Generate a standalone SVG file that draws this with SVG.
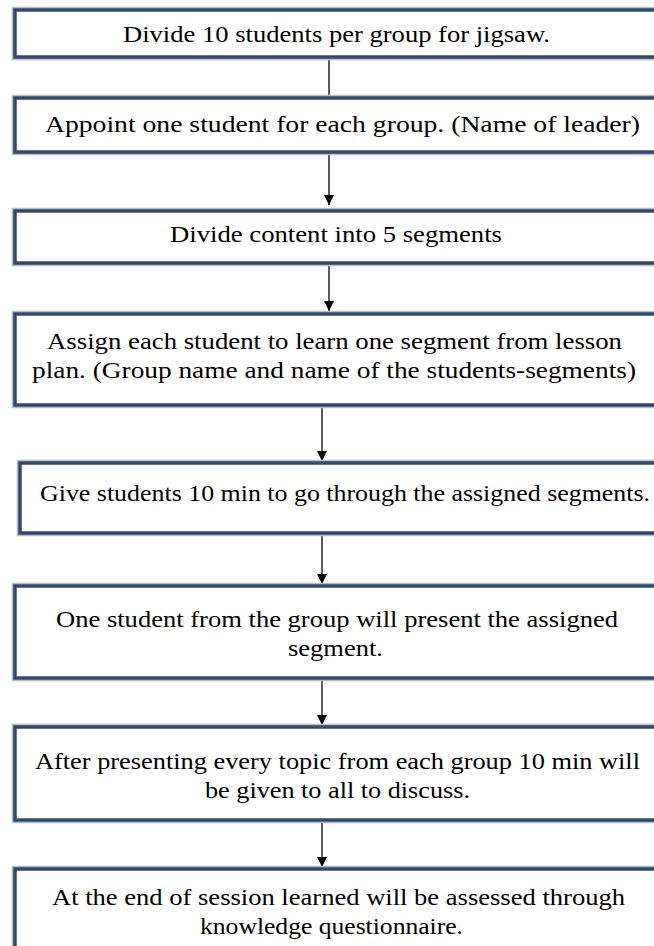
<svg xmlns="http://www.w3.org/2000/svg" width="654" height="946" viewBox="0 0 654 946">
<style>
.box{fill:#ffffff;stroke:#34496a;stroke-width:3.5}
.shadow{fill:none;stroke:#b4bcc8;stroke-width:6.5}
.t{font-family:"Liberation Serif","DejaVu Serif Condensed","DejaVu Serif",serif;font-size:24px;fill:#000;text-anchor:middle}
.c{stroke:#333;stroke-width:1.6;fill:none}
</style>
<defs>
<marker id="ah" markerWidth="10" markerHeight="10" refX="10" refY="5" orient="auto" markerUnits="userSpaceOnUse" viewBox="0 0 10 10">
<path d="M0,0 L10,5 L0,10 Z" fill="#000"/>
</marker>
</defs>
<rect width="654" height="946" fill="#fff"/>
<g id="connectors">
<line class="c" x1="329" y1="57" x2="329" y2="98"/>
<line class="c" x1="329" y1="152" x2="329" y2="205" marker-end="url(#ah)"/>
<line class="c" x1="329" y1="263" x2="329" y2="311" marker-end="url(#ah)"/>
<line class="c" x1="322" y1="405" x2="322" y2="461" marker-end="url(#ah)"/>
<line class="c" x1="322" y1="533" x2="322" y2="584" marker-end="url(#ah)"/>
<line class="c" x1="322" y1="678" x2="322" y2="725" marker-end="url(#ah)"/>
<line class="c" x1="322" y1="820" x2="322" y2="867" marker-end="url(#ah)"/>
</g>
<g id="n1">
<rect class="shadow" x="15" y="10" width="650" height="47"/>
<rect class="box" x="15" y="10" width="650" height="47"/>
<text class="t" x="336.5" y="42" textLength="427" lengthAdjust="spacingAndGlyphs">Divide 10 students per group for jigsaw.</text>
</g>
<g id="n2">
<rect class="shadow" x="15" y="98" width="650" height="54"/>
<rect class="box" x="15" y="98" width="650" height="54"/>
<text class="t" x="342.5" y="132" textLength="595" lengthAdjust="spacingAndGlyphs">Appoint one student for each group. (Name of leader)</text>
</g>
<g id="n3">
<rect class="shadow" x="15" y="211" width="650" height="52"/>
<rect class="box" x="15" y="211" width="650" height="52"/>
<text class="t" x="336" y="242" textLength="332" lengthAdjust="spacingAndGlyphs">Divide content into 5 segments</text>
</g>
<g id="n4">
<rect class="shadow" x="15" y="314" width="650" height="91"/>
<rect class="box" x="15" y="314" width="650" height="91"/>
<text class="t" x="334.5" y="349" textLength="575" lengthAdjust="spacingAndGlyphs">Assign each student to learn one segment from lesson</text>
<text class="t" x="334" y="378" textLength="604" lengthAdjust="spacingAndGlyphs">plan. (Group name and name of the students-segments)</text>
</g>
<g id="n5">
<rect class="shadow" x="20" y="463" width="645" height="70"/>
<rect class="box" x="20" y="463" width="645" height="70"/>
<text class="t" x="345" y="501" textLength="610" lengthAdjust="spacingAndGlyphs">Give students 10 min to go through the assigned segments.</text>
</g>
<g id="n6">
<rect class="shadow" x="15" y="586" width="650" height="92"/>
<rect class="box" x="15" y="586" width="650" height="92"/>
<text class="t" x="337" y="627" textLength="562" lengthAdjust="spacingAndGlyphs">One student from the group will present the assigned</text>
<text class="t" x="335.5" y="656" textLength="95" lengthAdjust="spacingAndGlyphs">segment.</text>
</g>
<g id="n7">
<rect class="shadow" x="15" y="727" width="650" height="93"/>
<rect class="box" x="15" y="727" width="650" height="93"/>
<text class="t" x="337.5" y="769" textLength="605" lengthAdjust="spacingAndGlyphs">After presenting every topic from each group 10 min will</text>
<text class="t" x="337.5" y="798" textLength="265" lengthAdjust="spacingAndGlyphs">be given to all to discuss.</text>
</g>
<g id="n8">
<rect class="shadow" x="15" y="869" width="650" height="100"/>
<rect class="box" x="15" y="869" width="650" height="100"/>
<text class="t" x="338.5" y="905" textLength="573" lengthAdjust="spacingAndGlyphs">At the end of session learned will be assessed through</text>
<text class="t" x="331.5" y="934" textLength="263" lengthAdjust="spacingAndGlyphs">knowledge questionnaire.</text>
</g>
</svg>
